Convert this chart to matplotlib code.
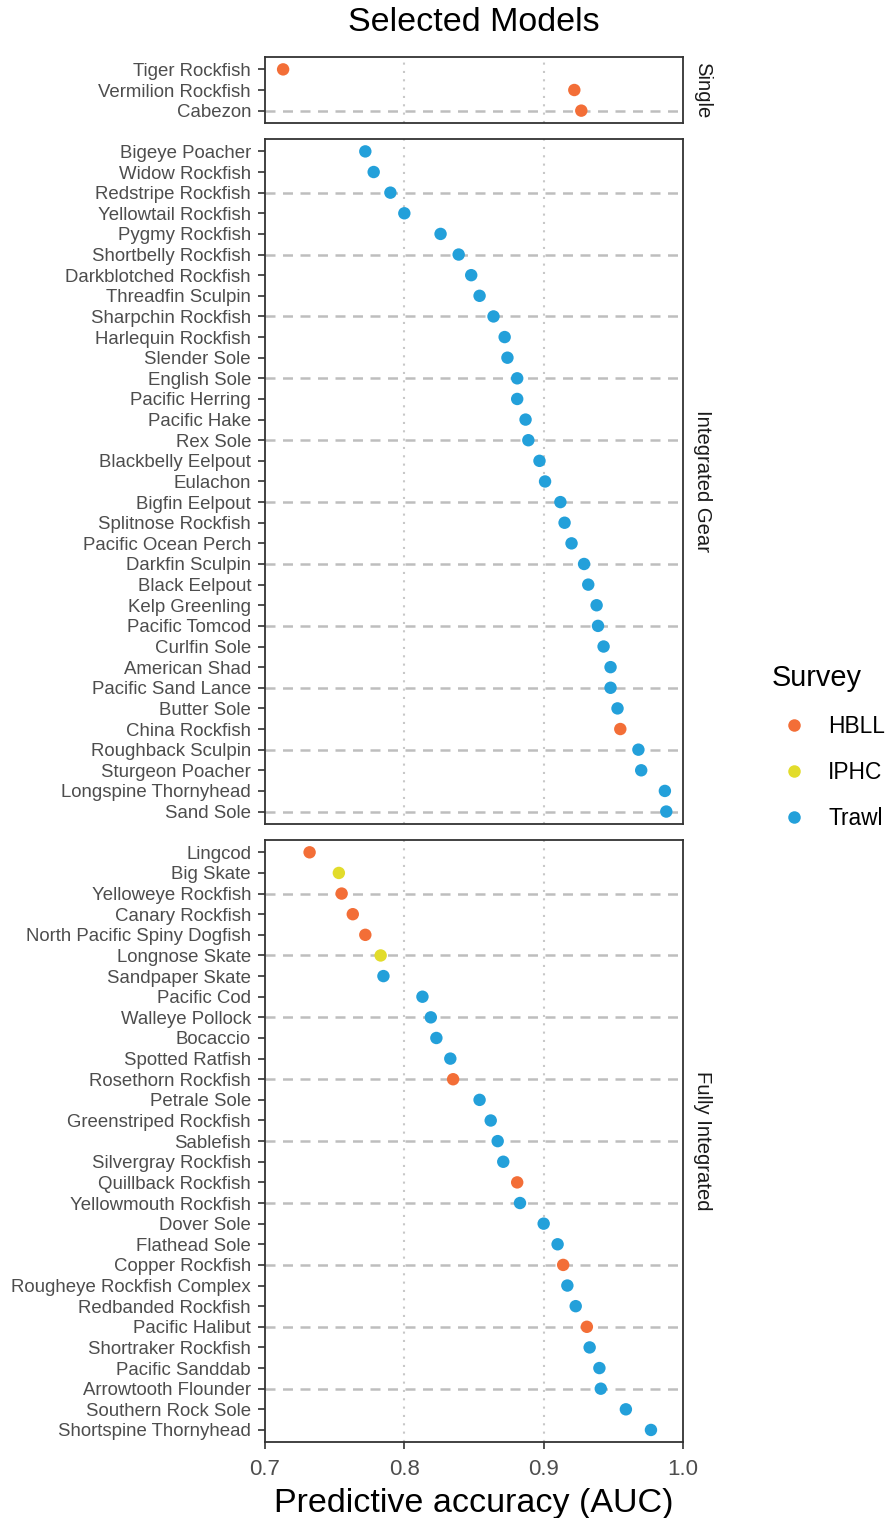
import matplotlib
matplotlib.use("Agg")
import matplotlib.pyplot as plt
from matplotlib.lines import Line2D

plt.rcParams["font.family"] = ["Liberation Sans", "DejaVu Sans"]

# model groups, top to bottom
groups = ["Single", "Integrated Gear", "Fully Integrated"]

single_species = ["Tiger Rockfish", "Vermilion Rockfish", "Cabezon"]
single_auc = [0.713, 0.922, 0.927]
single_survey = ["HBLL", "HBLL", "HBLL"]

gear_species = [
    "Bigeye Poacher", "Widow Rockfish", "Redstripe Rockfish", "Yellowtail Rockfish",
    "Pygmy Rockfish", "Shortbelly Rockfish", "Darkblotched Rockfish", "Threadfin Sculpin",
    "Sharpchin Rockfish", "Harlequin Rockfish", "Slender Sole", "English Sole",
    "Pacific Herring", "Pacific Hake", "Rex Sole", "Blackbelly Eelpout", "Eulachon",
    "Bigfin Eelpout", "Splitnose Rockfish", "Pacific Ocean Perch", "Darkfin Sculpin",
    "Black Eelpout", "Kelp Greenling", "Pacific Tomcod", "Curlfin Sole", "American Shad",
    "Pacific Sand Lance", "Butter Sole", "China Rockfish", "Roughback Sculpin",
    "Sturgeon Poacher", "Longspine Thornyhead", "Sand Sole",
]
gear_auc = [
    0.772, 0.778, 0.790, 0.800, 0.826, 0.839, 0.848, 0.854, 0.864, 0.872, 0.874,
    0.881, 0.881, 0.887, 0.889, 0.897, 0.901, 0.912, 0.915, 0.920, 0.929, 0.932,
    0.938, 0.939, 0.943, 0.948, 0.948, 0.953, 0.955, 0.968, 0.970, 0.987, 0.988,
]
gear_survey = ["Trawl"] * 28 + ["HBLL"] + ["Trawl"] * 4

full_species = [
    "Lingcod", "Big Skate", "Yelloweye Rockfish", "Canary Rockfish",
    "North Pacific Spiny Dogfish", "Longnose Skate", "Sandpaper Skate", "Pacific Cod",
    "Walleye Pollock", "Bocaccio", "Spotted Ratfish", "Rosethorn Rockfish",
    "Petrale Sole", "Greenstriped Rockfish", "Sablefish", "Silvergray Rockfish",
    "Quillback Rockfish", "Yellowmouth Rockfish", "Dover Sole", "Flathead Sole",
    "Copper Rockfish", "Rougheye Rockfish Complex", "Redbanded Rockfish",
    "Pacific Halibut", "Shortraker Rockfish", "Pacific Sanddab", "Arrowtooth Flounder",
    "Southern Rock Sole", "Shortspine Thornyhead",
]
full_auc = [
    0.732, 0.753, 0.755, 0.763, 0.772, 0.783, 0.785, 0.813, 0.819, 0.823, 0.833,
    0.835, 0.854, 0.862, 0.867, 0.871, 0.881, 0.883, 0.900, 0.910, 0.914, 0.917,
    0.923, 0.931, 0.933, 0.940, 0.941, 0.959, 0.977,
]
full_survey = [
    "HBLL", "IPHC", "HBLL", "HBLL", "HBLL", "IPHC", "Trawl", "Trawl", "Trawl",
    "Trawl", "Trawl", "HBLL", "Trawl", "Trawl", "Trawl", "Trawl", "HBLL", "Trawl",
    "Trawl", "Trawl", "HBLL", "Trawl", "Trawl", "HBLL", "Trawl", "Trawl", "Trawl",
    "Trawl", "Trawl",
]

surveys = ["HBLL", "IPHC", "Trawl"]
survey_colors = {"HBLL": "#F36E37", "IPHC": "#E2DC2B", "Trawl": "#23A0DA"}
x_ticks = [0.7, 0.8, 0.9, 1.0]

panels = [
    (single_species, single_auc, single_survey),
    (gear_species, gear_auc, gear_survey),
    (full_species, full_auc, full_survey),
]

W, H = 891, 1518
fig = plt.figure(figsize=(W / 100, H / 100), dpi=100)

left_px, right_px = 265, 683
unit = 20.63
gap = 16
top = 57
axes = []
for i, (species, auc, survey) in enumerate(panels):
    n = len(species)
    h = (n - 1 + 1.2) * unit
    ax = fig.add_axes([left_px / W, 1 - (top + h) / H, (right_px - left_px) / W, h / H])
    top += h + gap
    axes.append(ax)

    pos = list(range(n))
    # dashed guide every third row
    for p in pos[2::3]:
        ax.axhline(p, color="#BEBEBE", lw=1.8, ls=(0, (4, 3)), zorder=1)
    for xv in [0.8, 0.9]:
        ax.axvline(xv, color="#C8C8C8", lw=1.5, ls=(0, (1, 3)), zorder=1)

    ax.scatter(auc, pos, s=80, c=[survey_colors[s] for s in survey],
               edgecolors="none", zorder=3)

    ax.set_xlim(0.7, 1.0)
    ax.set_ylim(n - 1 + 0.6, -0.6)
    ax.set_yticks(pos)
    ax.set_yticklabels(species, fontsize=13.4, color="#4D4D4D")
    ax.set_xticks(x_ticks)
    if i < 2:
        ax.tick_params(axis="x", length=0, labelbottom=False)
    else:
        ax.set_xticklabels(["0.7", "0.8", "0.9", "1.0"], fontsize=16, color="#4D4D4D")
        ax.tick_params(axis="x", length=5, width=1.2, color="#333333", pad=7)
        ax.set_xlabel("Predictive accuracy (AUC)", fontsize=24.5, labelpad=6)
    ax.tick_params(axis="y", length=5, width=1.2, color="#333333", pad=5)
    for sp in ax.spines.values():
        sp.set_color("#333333")
        sp.set_linewidth(1.3)

    ax.text(1.025, 0.5, groups[i], transform=ax.transAxes, rotation=-90,
            ha="left", va="center", fontsize=14.6, color="#1A1A1A")

axes[0].set_title("Selected Models", fontsize=24.5, pad=19)

handles = [Line2D([], [], marker="o", ls="", markersize=9, markeredgewidth=0,
                  color=survey_colors[s]) for s in surveys]
leg = fig.legend(handles, surveys, loc="center left",
                 bbox_to_anchor=(760 / W, 1 - 747 / H), frameon=False,
                 title="Survey", fontsize=16.4, title_fontsize=20.8,
                 labelspacing=1.0, handletextpad=0.5, borderpad=0)
leg._legend_box.align = "left"

fig.savefig("out.png", dpi=100)
